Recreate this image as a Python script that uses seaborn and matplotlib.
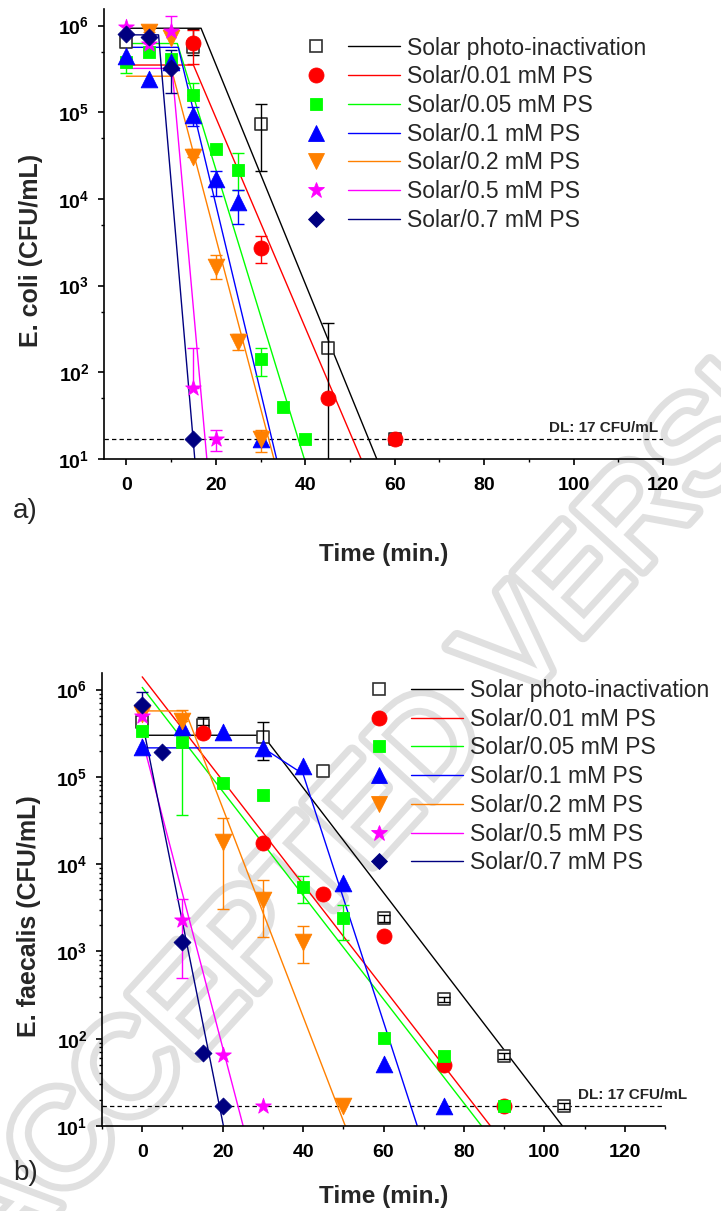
import numpy as np
import pandas as pd
import matplotlib
matplotlib.use("Agg")
import matplotlib.pyplot as plt
import seaborn as sns
from matplotlib.lines import Line2D
from matplotlib.legend_handler import HandlerTuple
from matplotlib.ticker import FixedLocator, FixedFormatter, NullFormatter
from matplotlib import patheffects as pe

# ---------------------------------------------------------------- data
series_labels = ["Solar photo-inactivation", "Solar/0.01 mM PS", "Solar/0.05 mM PS",
                 "Solar/0.1 mM PS", "Solar/0.2 mM PS", "Solar/0.5 mM PS",
                 "Solar/0.7 mM PS"]
series_colors = ["#000000", "#FF0000", "#00FF00", "#0000FF", "#FF8000", "#FF00FF", "#000080"]
series_markers = ["s", "o", "s", "^", "v", "*", "D"]

nan = np.nan

# E. coli (panel a)
ecoli_t = [[0, 15, 30, 45, 60],
           [15, 30, 45, 60],
           [0, 5, 10, 15, 20, 25, 30, 35, 40],
           [0, 5, 10, 15, 20, 25, 30],
           [5, 10, 15, 20, 25, 30],
           [0, 5, 10, 15, 20],
           [0, 5, 10, 15]]
ecoli_cfu = [[6.5e5, 5.7e5, 7.3e4, 190, 17],
             [6.3e5, 2.7e3, 50, 17],
             [3.8e5, 4.9e5, 4.1e5, 1.6e5, 3.8e4, 2.15e4, 141, 40, 17],
             [4.5e5, 2.4e5, 3.8e5, 9.3e4, 1.68e4, 9.3e3, 17],
             [8.5e5, 7.1e5, 3.07e4, 1.65e3, 225, 17],
             [9.5e5, 6.2e5, 8.7e5, 66, 17],
             [7.9e5, 7.4e5, 3.26e5, 17]]
ecoli_low = [[nan, 4.6e5, 2.1e4, 1, nan],
             [3.6e5, 1.8e3, nan, nan],
             [2.8e5, nan, nan, nan, nan, 1.26e4, 91, nan, nan],
             [nan, nan, nan, 6.9e4, 1.07e4, 5.2e3, nan],
             [nan, nan, nan, 1.19e3, 181, 12],
             [nan, nan, nan, nan, 12.4],
             [nan, nan, 1.68e5, nan]]
ecoli_high = [[nan, 9.0e5, 1.23e5, 370, nan],
              [8.9e5, 3.7e3, nan, nan],
              [nan, nan, nan, 2.2e5, nan, 3.4e4, 192, nan, nan],
              [nan, nan, nan, 1.15e5, 2.1e4, 1.25e4, nan],
              [1.0e6, nan, 3.8e4, 2.25e3, 280, 21.6],
              [nan, nan, 1.3e6, 193, 21.6],
              [nan, nan, 5.2e5, nan]]
ecoli_fit_t = [[0, 16.7, 56], [0, 15, 52.5], [0, 11.4, 39.8], [0, 11.6, 33.6],
               [0, 10.5, 33.0], [0, 10.2, 18.0], [0, 7.2, 15.3]]
ecoli_fit_cfu = [[9.3e5, 9.3e5, 10], [3.5e5, 3.5e5, 10], [6.2e5, 6.2e5, 10],
                 [5.6e5, 5.6e5, 10], [2.6e5, 2.6e5, 10], [3.2e5, 3.2e5, 10],
                 [7.8e5, 7.8e5, 10]]

# E. faecalis (panel b)
faecalis_t = [[0, 15, 30, 45, 60, 75, 90, 105],
              [15, 30, 45, 60, 75, 90],
              [0, 10, 20, 30, 40, 50, 60, 75, 90],
              [0, 10, 20, 30, 40, 50, 60, 75],
              [0, 10, 20, 30, 40, 50],
              [0, 10, 20, 30],
              [0, 5, 10, 15, 20]]
faecalis_cfu = [[4.3e5, 3.9e5, 2.85e5, 1.16e5, 2.4e3, 284, 63, 17],
                [3.2e5, 1.74e4, 4.5e3, 1.5e3, 50, 17],
                [3.4e5, 2.5e5, 8.5e4, 6.2e4, 5.5e3, 2.4e3, 102, 63, 17],
                [2.2e5, 3.7e5, 3.3e5, 2.15e5, 1.32e5, 6.1e3, 52, 17],
                [5.2e5, 4.4e5, 1.8e4, 3.86e3, 1.27e3, 17],
                [5.0e5, 2.3e3, 65, 17],
                [6.6e5, 1.95e5, 1.29e3, 69, 17]]
faecalis_low = [[nan, nan, 1.55e5, nan, 2.2e3, 265, 58, 15.5],
                [nan] * 6,
                [nan, 3.7e4, nan, nan, 3.6e3, 1.37e3, nan, nan, nan],
                [nan] * 8,
                [nan, nan, 3.1e3, 1.47e3, 7.3e2, nan],
                [nan, 500, nan, nan],
                [nan] * 5]
faecalis_high = [[nan, 4.8e5, 4.2e5, nan, 2.65e3, 300, 68, 18.5],
                 [nan] * 6,
                 [nan, nan, nan, nan, 7.4e3, 3.4e3, nan, nan, nan],
                 [nan] * 8,
                 [nan, 5.8e5, 3.4e4, 6.5e3, 1.95e3, nan],
                 [nan, 4.0e3, nan, nan],
                 [9.5e5, nan, nan, nan, nan]]
faecalis_fit_t = [[0, 30, 104.5], [0, 86.6], [0, 84.4], [0, 30, 40, 68.4],
                  [0, 10.7, 50.5], [0, 25.1], [0, 20.2]]
faecalis_fit_cfu = [[3.0e5, 3.0e5, 10], [1.4e6, 10], [1.06e6, 10],
                    [2.15e5, 2.15e5, 1.08e5, 10], [5.7e5, 5.7e5, 10],
                    [2.7e5, 10], [4.3e5, 10]]

detection_limit = 17
dl_label = "DL: 17 CFU/mL"
x_ticks = [0, 20, 40, 60, 80, 100, 120]
x_tick_labels = ["0", "20", "40", "60", "80", "100", "120"]
y_ticks = [1e1, 1e2, 1e3, 1e4, 1e5, 1e6]
y_tick_labels = [r"$\mathbf{10^{1}}$", r"$\mathbf{10^{2}}$", r"$\mathbf{10^{3}}$",
                 r"$\mathbf{10^{4}}$", r"$\mathbf{10^{5}}$", r"$\mathbf{10^{6}}$"]

# ---------------------------------------------------------------- style
sns.set_style("ticks")
plt.rcParams["font.family"] = ["Liberation Sans", "DejaVu Sans"]
plt.rcParams["mathtext.fontset"] = "custom"
plt.rcParams["mathtext.rm"] = "Liberation Sans:bold"
plt.rcParams["mathtext.bf"] = "Liberation Sans:bold"
plt.rcParams["mathtext.it"] = "Liberation Sans:bold"

marker_area = {"s": 74, "o": 117, "^": 144, "v": 144, "*": 140, "D": 74}

fig = plt.figure(figsize=(7.21, 12.11), dpi=100)
ax_a = fig.add_axes([104 / 721, 1 - 459 / 1211, 559 / 721, 450 / 1211])
ax_b = fig.add_axes([102 / 721, 1 - 1126 / 1211, 563 / 721, 453 / 1211])

# hollow diagonal stamp behind both panels
fig.text(0.0, -0.05, "ACCEPTED VERSION", rotation=47.5, rotation_mode="anchor",
         ha="left", va="baseline", fontsize=96, color="white", zorder=-5,
         path_effects=[pe.Stroke(linewidth=10, foreground="#e0e0e0"), pe.Normal()])


def draw_panel(ax, times, cfu, low, high, fit_t, fit_cfu):
    ax.set_yscale("log")
    ax.patch.set_alpha(0)
    for i in range(len(series_labels)):
        c = series_colors[i]
        fit = pd.DataFrame({"t": fit_t[i], "cfu": fit_cfu[i]})
        sns.lineplot(data=fit, x="t", y="cfu", color=c, lw=1.0, estimator=None,
                     sort=False, ax=ax, zorder=2, legend=False)
        t = np.asarray(times[i], float)
        y = np.asarray(cfu[i], float)
        lo = np.asarray(low[i], float)
        hi = np.asarray(high[i], float)
        has = ~(np.isnan(lo) & np.isnan(hi))
        if has.any():
            lo_v = np.where(np.isnan(lo), y, lo)[has]
            hi_v = np.where(np.isnan(hi), y, hi)[has]
            ax.errorbar(t[has], y[has], yerr=[y[has] - lo_v, hi_v - y[has]],
                        fmt="none", ecolor=c, elinewidth=1.0, capsize=4,
                        capthick=1.0, zorder=3)
        pts = pd.DataFrame({"t": t, "cfu": y})
        m = series_markers[i]
        if i == 0:
            sns.scatterplot(data=pts, x="t", y="cfu", marker=m, s=marker_area[m],
                            color="white", edgecolor="#303030", linewidth=1.2,
                            ax=ax, zorder=2.8, legend=False)
        else:
            sns.scatterplot(data=pts, x="t", y="cfu", marker=m, s=marker_area[m],
                            color=c, edgecolor=c, linewidth=0.6,
                            ax=ax, zorder=4, legend=False)
    ax.axhline(detection_limit, color="black", lw=0.9, ls=(0, (3.5, 2.5)), zorder=1)
    ax.set_ylim(10, 1.55e6)
    ax.yaxis.set_major_locator(FixedLocator(y_ticks))
    ax.yaxis.set_major_formatter(FixedFormatter(y_tick_labels))
    ax.xaxis.set_major_locator(FixedLocator(x_ticks))
    ax.xaxis.set_major_formatter(FixedFormatter(x_tick_labels))
    ax.yaxis.set_minor_formatter(NullFormatter())
    for s in ("top", "right"):
        ax.spines[s].set_visible(False)
    for s in ("left", "bottom"):
        ax.spines[s].set_linewidth(1.2)
        ax.spines[s].set_color("black")
    ax.tick_params(which="major", direction="out", length=4.5, width=1.2,
                   colors="black", labelsize=14)
    ax.tick_params(which="minor", direction="out", length=2.5, width=1.0,
                   colors="black")
    ax.tick_params(axis="x", which="major", pad=8.5)
    ax.tick_params(axis="y", which="major", pad=6)
    for lab in ax.get_xticklabels():
        lab.set_fontweight("bold")


draw_panel(ax_a, ecoli_t, ecoli_cfu, ecoli_low, ecoli_high, ecoli_fit_t, ecoli_fit_cfu)
draw_panel(ax_b, faecalis_t, faecalis_cfu, faecalis_low, faecalis_high,
           faecalis_fit_t, faecalis_fit_cfu)

ax_a.set_xlim(-5, 120)
ax_b.set_xlim(-10, 130)
ax_a.xaxis.set_minor_locator(FixedLocator(np.arange(10, 120, 20)))
ax_b.xaxis.set_minor_locator(FixedLocator(np.arange(-10, 131, 20)))
ax_a.yaxis.set_minor_locator(FixedLocator([5 * 10.0 ** k for k in range(1, 6)]))
ax_b.yaxis.set_minor_locator(FixedLocator([m * 10.0 ** k for k in range(1, 6)
                                           for m in range(2, 10)]))

ax_a.set_xlabel("Time (min.)", fontsize=17.5, fontweight="bold", va="center")
ax_b.set_xlabel("Time (min.)", fontsize=17.5, fontweight="bold", va="center")
ax_a.set_ylabel("E. coli (CFU/mL)", fontsize=18, fontweight="bold", va="center")
ax_b.set_ylabel("E. faecalis (CFU/mL)", fontsize=18, fontweight="bold", va="center")
ax_a.xaxis.set_label_coords(0.5, -0.212)
ax_b.xaxis.set_label_coords(0.5, -0.155)
ax_a.yaxis.set_label_coords(-0.1306, 0.464)
ax_b.yaxis.set_label_coords(-0.1297, 0.4636)

ax_a.annotate(dl_label, xy=(119.0, detection_limit), xytext=(0, 3),
              textcoords="offset points", ha="right", va="bottom",
              fontsize=11, fontweight="bold")
ax_b.annotate(dl_label, xy=(108.3, detection_limit), xytext=(0, 3),
              textcoords="offset points", ha="left", va="bottom",
              fontsize=11, fontweight="bold", annotation_clip=False)

fig.text(25 / 721, 1 - 511 / 1211, "a)", fontsize=20, ha="center", va="center")
fig.text(26 / 721, 1 - 1173 / 1211, "b)", fontsize=20, ha="center", va="center")


def legend_handles():
    handles = []
    for i in range(len(series_labels)):
        c = series_colors[i]
        m = series_markers[i]
        ms = np.sqrt(marker_area[m])
        if i == 0:
            mk = Line2D([], [], ls="none", marker=m, ms=ms, mfc="white",
                        mec="#303030", mew=1.2)
        else:
            mk = Line2D([], [], ls="none", marker=m, ms=ms, mfc=c, mec=c, mew=0.6)
        ln = Line2D([], [], color=c, lw=1.0)
        handles.append((mk, ln))
    return handles


for ax, x0, y0 in ((ax_a, 290, 36.5), (ax_b, 353, 679)):
    ax.legend(legend_handles(), series_labels,
              handler_map={tuple: HandlerTuple(ndivide=None, pad=0.3)},
              loc="upper left", bbox_to_anchor=(x0 / 721, 1 - y0 / 1211),
              bbox_transform=fig.transFigure, frameon=False, borderpad=0,
              borderaxespad=0, handlelength=4.8, handletextpad=0.3,
              labelspacing=0.25, fontsize=16.5)

fig.savefig("out.png", dpi=100)
